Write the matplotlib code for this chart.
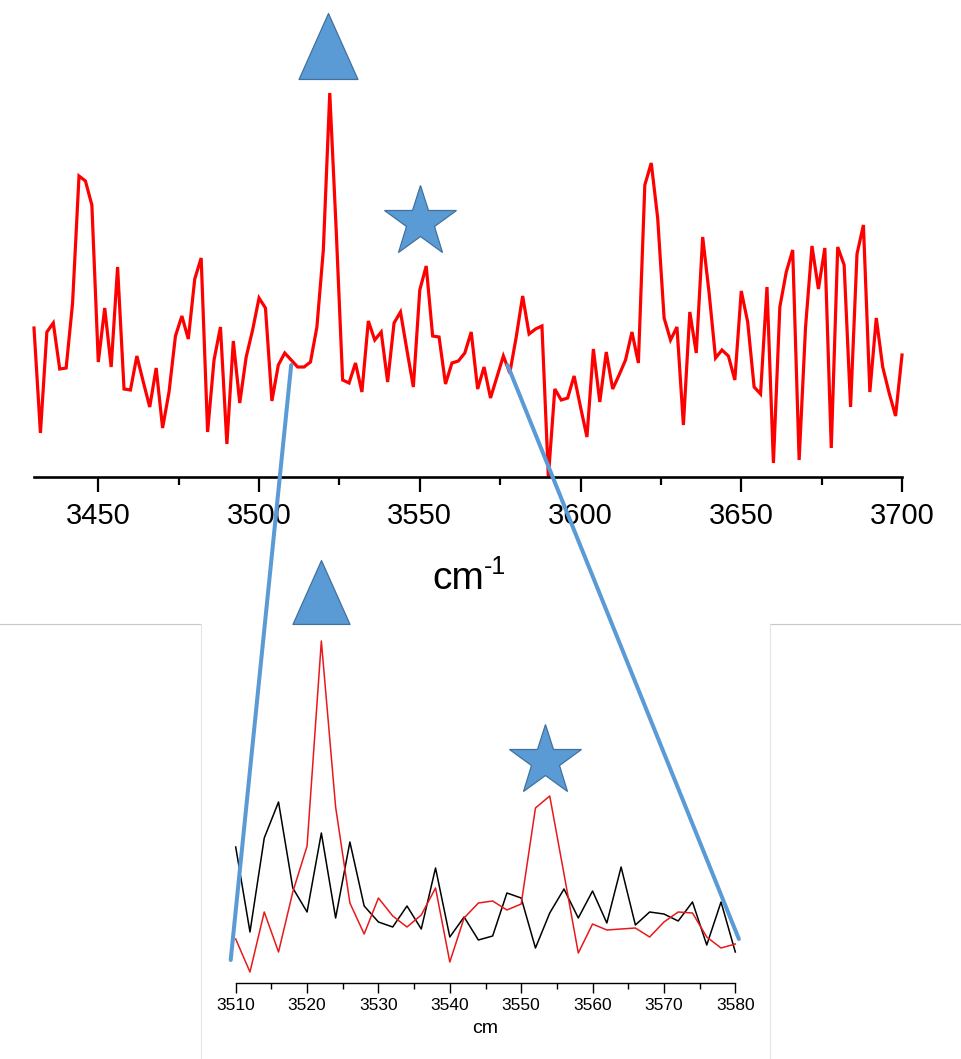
import numpy as np
import matplotlib
matplotlib.use("Agg")
import matplotlib.pyplot as plt
from matplotlib.patches import ConnectionPatch
from matplotlib.path import Path
from matplotlib.lines import Line2D

plt.rcParams['font.family'] = ['Liberation Sans', 'DejaVu Sans']

# ---------------- data ----------------
top_wavenumber = np.arange(3430, 3702, 2)
top_intensity = [149, 44, 145, 154, 108, 109, 174, 301, 296, 272,
                 115, 169, 110, 210, 88, 87, 121, 95, 70, 109,
                 49, 85, 141, 161, 138, 198, 219, 45, 117, 150,
                 33, 136, 74, 120, 147, 179, 169, 76, 112, 124,
                 117, 110, 110, 115, 150, 227, 384, 247, 97, 94,
                 114, 85, 156, 137, 145, 95, 154, 165, 127, 90,
                 187, 211, 141, 140, 93, 114, 116, 124, 145, 88,
                 110, 79, 100, 121, 104, 140, 181, 143, 148, 151,
                 0, 88, 77, 79, 101, 70, 40, 128, 75, 125,
                 88, 102, 117, 145, 114, 292, 314, 259, 159, 137,
                 150, 52, 165, 124, 240, 184, 119, 127, 121, 97,
                 186, 155, 90, 83, 190, 14, 170, 205, 227, 17,
                 150, 231, 188, 229, 29, 230, 212, 70, 223, 252,
                 85, 159, 110, 84, 61, 122]

zoom_wavenumber = np.arange(3510, 3582, 2)
zoom_red = [44, 11, 71, 31, 91, 137, 342, 176, 80, 49,
            85, 67, 56, 68, 95, 21, 65, 80, 82, 73,
            79, 175, 187, 109, 30, 59, 53, 54, 55, 46,
            61, 71, 70, 46, 35, 39]
zoom_black = [136, 51, 145, 181, 95, 71, 150, 65, 141, 77,
              61, 56, 77, 54, 115, 46, 66, 43, 47, 90,
              85, 35, 70, 94, 65, 92, 60, 116, 58, 71,
              69, 62, 81, 38, 81, 31]

top_ticks = [3450, 3500, 3550, 3600, 3650, 3700]
zoom_ticks = [3510, 3520, 3530, 3540, 3550, 3560, 3570, 3580]

BLUE = '#5B9BD5'
BLUE_EDGE = '#41719C'

W, H = 961, 1059
fig = plt.figure(figsize=(W / 100, H / 100), dpi=100)

def fx(px):
    return px / W

def fy(py):
    return 1 - py / H

# ---------------- top axes ----------------
ax1 = fig.add_axes([fx(34), fy(477), fx(902) - fx(34), fy(80) - fy(477)])
ax1.plot(top_wavenumber, top_intensity, color='#FF0000', lw=2.3, clip_on=False,
         solid_joinstyle='miter')
ax1.set_xlim(3430, 3700)
ax1.set_ylim(0, 397)
for s in ['left', 'right', 'top']:
    ax1.spines[s].set_visible(False)
ax1.spines['bottom'].set_linewidth(1.9)
ax1.set_yticks([])
ax1.set_xticks(top_ticks)
ax1.set_xticks([3475, 3525, 3575, 3625, 3675], minor=True)
ax1.tick_params(axis='x', which='major', length=11, width=1.6, labelsize=21, pad=7)
ax1.tick_params(axis='x', which='minor', length=6, width=1.6)
ax1.patch.set_alpha(0)

# axis title "cm-1" (hyphen superscript as in the original)
fig.text(fx(458), fy(589), 'cm', fontsize=28, ha='center', va='baseline')
fig.text(fx(484), fy(574), '-1', fontsize=18, ha='left', va='baseline')

# markers in top panel
tri_verts = [(-0.5, -0.56), (0.5, -0.56), (0.0, 0.56), (-0.5, -0.56)]
tri_path = Path(tri_verts, [Path.MOVETO, Path.LINETO, Path.LINETO, Path.CLOSEPOLY])
ax1.plot([3521.5], [431], marker=tri_path, markersize=47.5, color=BLUE,
         markeredgecolor=BLUE_EDGE, markeredgewidth=0.9, clip_on=False, ls='none')
ax1.plot([3550], [255], marker='*', markersize=54, color=BLUE,
         markeredgecolor=BLUE_EDGE, markeredgewidth=0.9, clip_on=False, ls='none')

# ---------------- zoom axes ----------------
ax2 = fig.add_axes([fx(235.7), fy(983), fx(735.3) - fx(235.7), fy(625) - fy(983)])
ax2.plot(zoom_wavenumber, zoom_black, color='black', lw=1.1, clip_on=False)
ax2.plot(zoom_wavenumber, zoom_red, color='#E8191B', lw=1.1, clip_on=False)
ax2.set_xlim(3510, 3580)
ax2.set_ylim(0, 358)
for s in ['left', 'right', 'top']:
    ax2.spines[s].set_visible(False)
ax2.spines['bottom'].set_linewidth(1.0)
ax2.set_yticks([])
ax2.set_xticks(zoom_ticks)
ax2.set_xticks([3515, 3525, 3535, 3545, 3555, 3565, 3575], minor=True)
ax2.tick_params(axis='x', which='major', length=7, width=1.0, labelsize=12.5, pad=4)
ax2.tick_params(axis='x', which='minor', length=4.5, width=1.0)
ax2.set_xlabel('cm', fontsize=14, labelpad=5)
ax2.patch.set_alpha(0)

ax2.plot([3522], [391], marker=tri_path, markersize=46, color=BLUE,
         markeredgecolor=BLUE_EDGE, markeredgewidth=0.9, clip_on=False, ls='none')
ax2.plot([3553.3], [222], marker='*', markersize=54, color=BLUE,
         markeredgecolor=BLUE_EDGE, markeredgewidth=0.9, clip_on=False, ls='none')

# ---------------- frame of the inset picture ----------------
fig.add_artist(Line2D([0, fx(201)], [fy(624), fy(624)], color='#c8c8c8', lw=0.8))
fig.add_artist(Line2D([fx(770), 1], [fy(624), fy(624)], color='#c8c8c8', lw=0.8))
fig.add_artist(Line2D([fx(201), fx(201)], [fy(624), 0], color='#e4e4e4', lw=0.8))
fig.add_artist(Line2D([fx(770), fx(770)], [fy(624), 0], color='#e4e4e4', lw=0.8))

# ---------------- connecting lines ----------------
con1 = ConnectionPatch(xyA=(3510, 112), coordsA=ax1.transData,
                       xyB=(3509.3, 23), coordsB=ax2.transData,
                       color=BLUE, lw=2.9, zorder=10)
con2 = ConnectionPatch(xyA=(3577.3, 112), coordsA=ax1.transData,
                       xyB=(3580.5, 44), coordsB=ax2.transData,
                       color=BLUE, lw=2.9, zorder=10)
fig.add_artist(con1)
fig.add_artist(con2)

fig.savefig('out.png', dpi=100)
